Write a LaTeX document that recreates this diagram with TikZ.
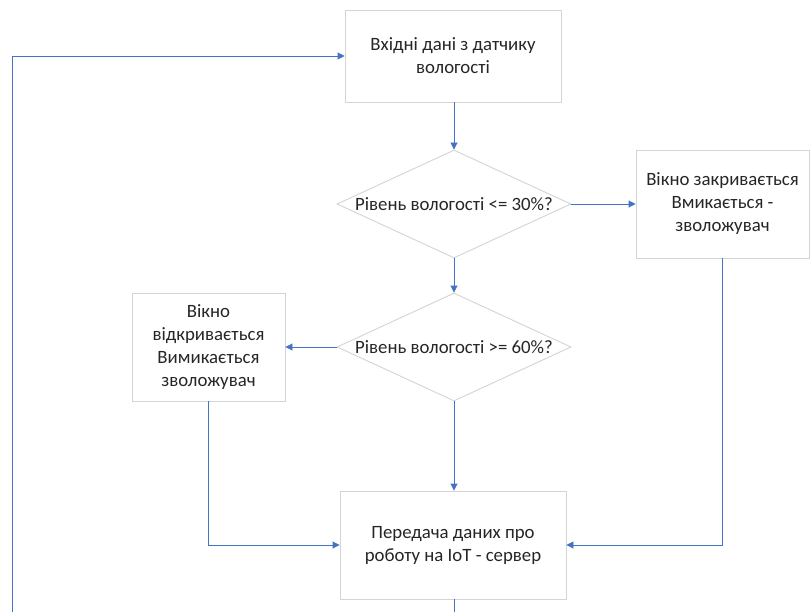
\documentclass[tikz,border=0pt]{standalone}
\usepackage{fontspec}
\setmainfont{Carlito}
\usetikzlibrary{shapes.geometric,arrows.meta}
\definecolor{flowblue}{HTML}{4472C4}
\definecolor{boxgrey}{HTML}{D4D4D4}
\definecolor{txt}{HTML}{262626}
\tikzset{
  stepbox/.style={draw=boxgrey, line width=0.9pt, fill=white, align=center,
    inner sep=0pt, text=txt, font=\fontsize{18.8}{23}\selectfont},
  decision/.style={draw=boxgrey, line width=0.9pt, diamond, inner sep=0pt,
    minimum width=234pt, minimum height=108pt, aspect=2.17},
  dtext/.style={text=txt, font=\fontsize{18.8}{23}\selectfont, inner sep=0pt},
  flow/.style={draw=flowblue, line width=0.9pt, -{Triangle[length=7pt,width=7pt]}},
}
\begin{document}
\begin{tikzpicture}[x=1pt,y=-1pt]
\useasboundingbox (0,0) rectangle (810,612);
\clip (0,0) rectangle (810,612);
\fill[white] (0,0) rectangle (810,612);

% process steps
\node[stepbox, minimum width=216pt, minimum height=92pt] (input) at (453,56)
  {Вхідні дані з датчику\\вологості};
\node[decision] (low) at (454,204) {};
\node[dtext] (lowtxt) at (454,204) {Рівень вологості <= 30\%?};
\node[stepbox, minimum width=173pt, minimum height=108pt] (close) at (722.5,204)
  {Вікно закривається\\Вмикається -\\зволожувач};
\node[decision] (high) at (454,347) {};
\node[dtext] (hightxt) at (454,347) {Рівень вологості >= 60\%?};
\node[stepbox, minimum width=153pt, minimum height=108pt] (open) at (208.5,347)
  {Вікно\\відкривається\\Вимикається\\зволожувач};
\node[stepbox, minimum width=226pt, minimum height=108pt] (send) at (453,545)
  {Передача даних про\\роботу на IoT - сервер};

% connectors
\draw[flow] (input.south -| low.north) -- (low.north);
\draw[flow] (low.east) -- (close.west);
\draw[flow] (low.south) -- (high.north);
\draw[flow] (high.west) -- (open.east);
\draw[flow] (high.south) -- (high.south |- send.north);
\draw[flow] (open.south) |- (send.west);
\draw[flow] (close.south) |- (send.east);

% loop back to the sensor input
\coordinate (loopbot) at (454,625);
\coordinate (loopleft) at (12,625);
\draw[flow] (send.south -| loopbot) -- (loopbot) -- (loopleft) |- (input.west);
\end{tikzpicture}
\end{document}
